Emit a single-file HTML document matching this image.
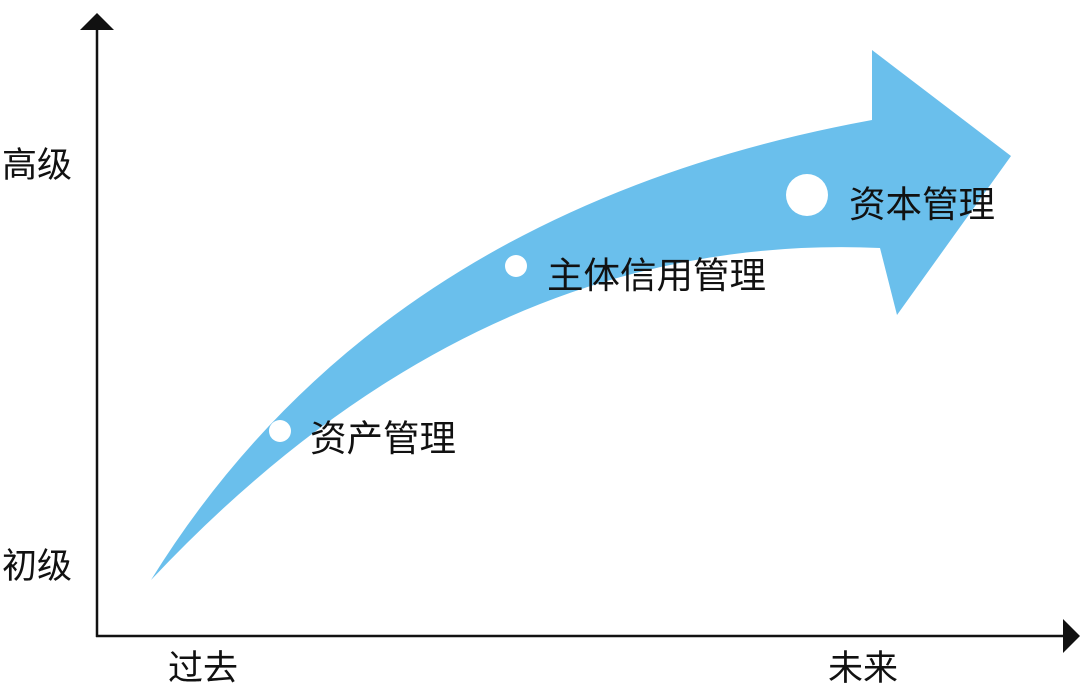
<!DOCTYPE html>
<html><head><meta charset="utf-8"><style>
html,body{margin:0;padding:0;background:#fff;width:1080px;height:699px;overflow:hidden}
svg{display:block}
text{font-family:"Liberation Sans","Noto Sans CJK SC",sans-serif;font-size:35px;fill:#111}
text.l{font-size:36.5px}
</style></head><body>
<svg width="1080" height="699" viewBox="0 0 1080 699">
<path d="M151,580 Q380,210 872,120 L872,50 L1011,156 L897,315 L880,248 Q480,230 151,580 Z" fill="#6ABFEC"/>
<line x1="97" y1="28" x2="97" y2="637" stroke="#111" stroke-width="2.5"/>
<line x1="96" y1="636" x2="1064" y2="636" stroke="#111" stroke-width="2.5"/>
<polygon points="97,13 80,30 114,30" fill="#111"/>
<polygon points="1080,636 1063,619 1063,653" fill="#111"/>
<circle cx="280" cy="431" r="11" fill="#fff"/>
<circle cx="516" cy="266" r="11" fill="#fff"/>
<circle cx="807" cy="195" r="21" fill="#fff"/>
<text class="l" x="310" y="451">资产管理</text>
<text class="l" x="547" y="288">主体信用管理</text>
<text class="l" x="849" y="217">资本管理</text>
<text x="2" y="177">高级</text>
<text x="2" y="578">初级</text>
<text x="168" y="680">过去</text>
<text x="828" y="680">未来</text>
</svg>
</body></html>
